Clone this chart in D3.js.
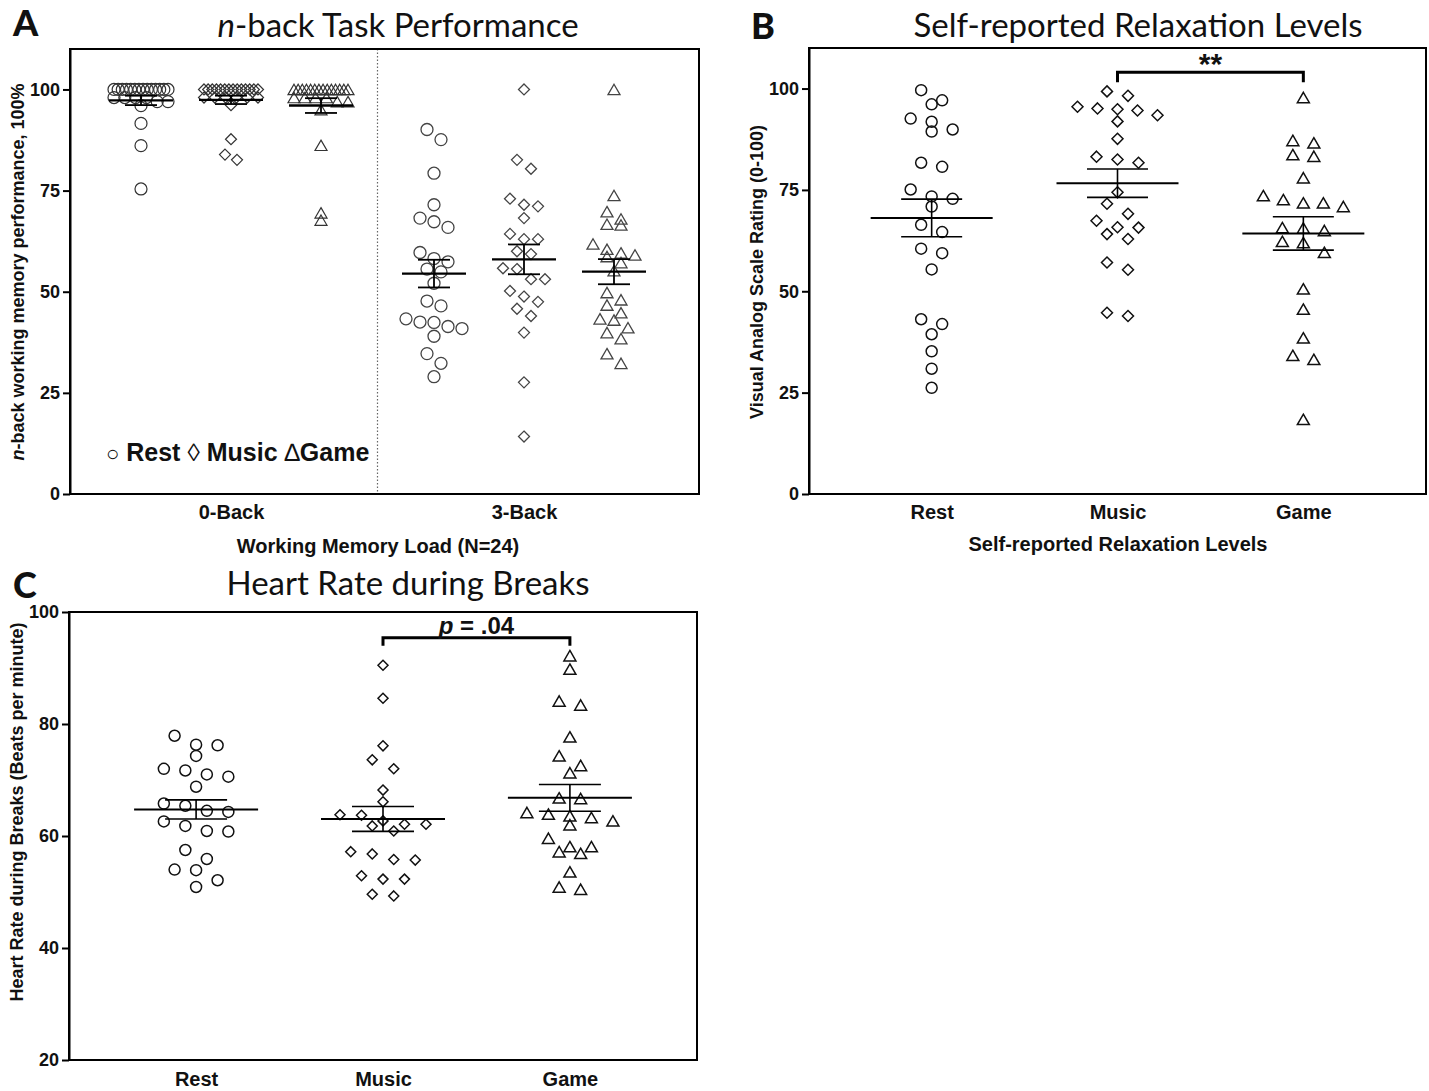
<!DOCTYPE html>
<html>
<head>
<meta charset="utf-8">
<script src="https://cdn.jsdelivr.net/npm/d3@7"></script>
<style>
  body { margin: 0; background: #fff; }
  svg text { font-family: "Liberation Sans", Arial, sans-serif; font-weight: bold; fill: #111; }
  svg text.ttl { font-family: Lato, "Open Sans", sans-serif; font-weight: normal; font-size: 33px; }
  svg text.letter { font-family: Lato, "Open Sans", sans-serif; font-weight: 900; font-size: 36px; }
</style>
</head>
<body>
<svg id="fig" width="1429" height="1091"></svg>
<script>
// datos
var conditions = ["Rest", "Music", "Game"];
var loads = ["0-Back", "3-Back"];

var ticksA = [0, 25, 50, 75, 100];
var ticksB = [0, 25, 50, 75, 100];
var ticksC = [20, 40, 60, 80, 100];

// A: n-back performance (%)
var nbackRest0 = [100,100,100,100,100,100,100,100,100,100,100,100,100,100,98,98,98,98,97,97,96,91.6,86.1,75.4];
var nbackMusic0 = [100,100,100,100,100,100,100,100,100,100,100,100,100,100,98,98,98,98,98,98,96.1,87.7,83.9,82.6];
var nbackGame0 = [100,100,100,100,100,100,100,100,100,100,100,100,100,100,98,98,98,98,97,97,95,86.2,69.5,67.7];
var nbackRest3 = [90.1,87.6,79.3,71.5,68.2,67.3,65.9,59.7,58.2,57.4,55.6,54.9,52.1,47.7,46.5,43.3,42.5,42.4,41.4,40.9,39.0,34.7,32.3,29.0];
var nbackMusic3 = [100,82.6,80.4,73.0,71.5,71.1,68.2,64.3,63.0,63.0,60.0,59.3,55.8,55.6,53.1,53.1,50.2,48.8,47.5,45.8,44.0,39.9,27.6,14.2];
var nbackGame3 = [100,73.8,69.8,68.0,66.7,66.5,61.8,60.5,59.6,59.1,58.7,57.2,55.2,49.8,48.0,46.7,44.8,43.3,43.0,41.1,39.9,38.4,34.7,32.3];

// B: relaxation VAS (0-100)
var relaxRest = [99.6,97.1,96.1,92.6,91.8,89.9,89.4,81.7,80.7,75.1,73.4,72.8,70.9,66.4,64.6,60.5,59.4,55.4,43.1,41.9,39.4,35.2,30.9,26.2];
var relaxMusic = [99.3,98.2,95.5,95.1,94.9,94.6,93.4,91.9,87.6,83.2,82.5,81.7,74.4,71.6,69.1,67.4,65.8,65.7,64.1,62.9,57.1,55.3,44.7,43.9];
var relaxGame = [97.8,87.2,86.6,83.7,83.3,78.0,73.6,72.6,71.8,71.8,70.9,65.7,65.6,65.0,62.3,62.0,59.6,50.6,45.6,38.5,34.2,33.2,18.4];

// C: heart rate (bpm)
var hrRest = [77.9,76.3,76.2,74.3,72.0,71.7,71.0,70.6,68.8,65.8,65.4,64.5,64.3,62.6,61.8,60.9,60.8,57.5,55.9,54.0,53.9,52.1,50.9];
var hrMusic = [90.5,84.6,76.1,73.6,72.0,68.2,66.1,63.8,63.7,62.7,62.1,62.1,61.8,60.9,57.2,56.8,55.8,55.7,52.9,52.3,52.3,49.6,49.3];
var hrGame = [92.2,89.8,84.1,83.4,77.7,74.3,72.6,71.3,66.8,66.7,64.2,63.9,63.6,63.3,62.7,62.0,59.6,58.1,58.1,57.2,56.9,53.6,50.9,50.5];

var svg = d3.select("#fig");

// simbolos
var shapes = {
  Rest: d3.symbolCircle,
  Music: d3.symbolDiamond2 || d3.symbolDiamond,
  Game: d3.symbolTriangle2 || d3.symbolTriangle
};
function symbolPath(cond, w) {
  var size;
  if (cond === "Rest") size = Math.PI * (w / 2) * (w / 2);
  else if (cond === "Music") size = Math.pow(w / 2 / 0.62625, 2);
  else size = Math.pow(w / 1.732 / 0.6824, 2);
  return d3.symbol(shapes[cond], size)();
}

// reparte los puntos en filas (estilo prism)
function swarm(values, y, cx, step, maxW, rowH) {
  var sorted = values.slice().sort(d3.descending);
  var rows = [], cur = null;
  sorted.forEach(function(v) {
    if (cur && y(v) - y(cur[0]) < rowH) cur.push(v);
    else { cur = [v]; rows.push(cur); }
  });
  var out = [];
  rows.forEach(function(r) {
    var n = r.length;
    var s = n > 1 ? Math.min(step, maxW / (n - 1)) : 0;
    r.forEach(function(v, i) {
      out.push({ v: v, x: cx + (i - (n - 1) / 2) * s, y: y(v) });
    });
  });
  return out;
}

function drawGroup(g, vals, cond, cx, y, o) {
  var pts = swarm(vals, y, cx, o.step, o.maxW, o.rowH);
  var w = o.size[cond];
  g.append("g").selectAll("path")
    .data(pts)
    .enter().append("path")
    .attr("d", symbolPath(cond, w))
    .attr("transform", function(d) {
      var dy = cond === "Game" ? w / 1.732 / 4 : 0;
      return "translate(" + d.x + "," + (d.y + dy) + ")";
    })
    .attr("fill", "none")
    .attr("stroke", o.color)
    .attr("stroke-width", o.sw);

  var m = d3.mean(vals),
      se = d3.deviation(vals) / Math.sqrt(vals.length);
  var eb = g.append("g").attr("stroke", "#000");
  eb.append("line")
    .attr("x1", cx - o.meanW / 2).attr("x2", cx + o.meanW / 2)
    .attr("y1", y(m)).attr("y2", y(m))
    .attr("stroke-width", o.meanSW);
  eb.append("line")
    .attr("x1", cx).attr("x2", cx)
    .attr("y1", y(m - se)).attr("y2", y(m + se))
    .attr("stroke-width", o.capSW);
  [m - se, m + se].forEach(function(v) {
    eb.append("line")
      .attr("x1", cx - o.capW / 2).attr("x2", cx + o.capW / 2)
      .attr("y1", y(v)).attr("y2", y(v))
      .attr("stroke-width", o.capSW);
  });
}

function frame(x0, y0, x1, y1) {
  svg.append("rect")
    .attr("x", x0).attr("y", y0)
    .attr("width", x1 - x0).attr("height", y1 - y0)
    .attr("fill", "none").attr("stroke", "#000").attr("stroke-width", 2);
}

function leftAxis(y, ticks, x0) {
  var ax = svg.append("g")
    .attr("transform", "translate(" + x0 + ",0)")
    .call(d3.axisLeft(y).tickValues(ticks).tickSize(7).tickPadding(3).tickSizeOuter(0));
  ax.select(".domain").attr("stroke-width", 2);
  ax.selectAll(".tick line").attr("stroke-width", 2);
  ax.selectAll("text").attr("font-size", 18).attr("font-family", "Liberation Sans").attr("font-weight", "bold").attr("fill", "#111");
}

function bottomLabels(x, y0, pad) {
  var ax = svg.append("g")
    .attr("transform", "translate(0," + y0 + ")")
    .call(d3.axisBottom(x).tickSize(0).tickPadding(pad));
  ax.select(".domain").remove();
  ax.selectAll("text").attr("font-size", 20).attr("font-family", "Liberation Sans").attr("font-weight", "bold").attr("fill", "#111");
}

function yLabel(x, yc, size) {
  return svg.append("text")
    .attr("transform", "translate(" + x + "," + yc + ") rotate(-90)")
    .attr("text-anchor", "middle")
    .attr("font-size", size);
}

// ---------- Panel A ----------
var yA = d3.scaleLinear().domain([0, 110]).range([494, 49]);
var loadX = d3.scalePoint().domain(loads).range([231, 524]);
var condX = d3.scalePoint().domain(conditions).range([-90, 90]);

svg.append("line")
  .attr("x1", (loadX("0-Back") + loadX("3-Back")) / 2).attr("x2", (loadX("0-Back") + loadX("3-Back")) / 2)
  .attr("y1", yA(110)).attr("y2", yA(0))
  .attr("stroke", "#666").attr("stroke-width", 1.2).attr("stroke-dasharray", "1.5,2");

var gA = svg.append("g");
var optA0 = { step: 12, maxW: 54, rowH: 6, size: { Rest: 12, Music: 11, Game: 12 }, color: "#333", sw: 1.2,
              meanW: 64, capW: 32, meanSW: 2.4, capSW: 1.8 };
var optA3 = { step: 14, maxW: 60, rowH: 11, size: { Rest: 12, Music: 11, Game: 12 }, color: "#444", sw: 1.3,
              meanW: 64, capW: 32, meanSW: 2.2, capSW: 1.8 };
var setA = {
  "0-Back": { Rest: nbackRest0, Music: nbackMusic0, Game: nbackGame0 },
  "3-Back": { Rest: nbackRest3, Music: nbackMusic3, Game: nbackGame3 }
};
loads.forEach(function(l) {
  conditions.forEach(function(c) {
    drawGroup(gA, setA[l][c], c, loadX(l) + condX(c), yA, l === "0-Back" ? optA0 : optA3);
  });
});

frame(70, 49, 699, 494);
leftAxis(yA, ticksA, 70);
bottomLabels(loadX, 494, 11);

var legA = svg.append("text").attr("x", 106).attr("y", 461).attr("font-size", 25);
legA.append("tspan").attr("font-weight", "normal").attr("font-size", 22).text("○");
legA.append("tspan").text(" Rest ");
legA.append("tspan").attr("font-weight", "normal").attr("font-size", 25).text("◊");
legA.append("tspan").text(" Music ");
legA.append("tspan").attr("font-weight", "normal").text("∆");
legA.append("tspan").text("Game");

svg.append("text").attr("x", 378).attr("y", 553).attr("text-anchor", "middle").attr("font-size", 20)
  .text("Working Memory Load (N=24)");

var ylA = yLabel(24, 272, 18);
ylA.append("tspan").attr("font-style", "italic").text("n");
ylA.append("tspan").text("-back working memory performance, 100%");

var tA = svg.append("text").attr("class", "ttl").attr("x", 398).attr("y", 37).attr("text-anchor", "middle");
tA.append("tspan").attr("font-style", "italic").text("n");
tA.append("tspan").text("-back Task Performance");
svg.append("text").attr("class", "letter").attr("x", 13).attr("y", 36).text("A");

// ---------- Panel B ----------
var yB = d3.scaleLinear().domain([0, 110]).range([494, 48]);
var xB = d3.scalePoint().domain(conditions).range([809, 1426]).padding(0.66);
var optB = { step: 21, maxW: 80, rowH: 11, size: { Rest: 11, Music: 11, Game: 12 }, color: "#111", sw: 1.5,
             meanW: 122, capW: 61, meanSW: 2, capSW: 1.6 };
var setB = { Rest: relaxRest, Music: relaxMusic, Game: relaxGame };
var gB = svg.append("g");
conditions.forEach(function(c) { drawGroup(gB, setB[c], c, xB(c), yB, optB); });

frame(809, 48, 1426, 494);
leftAxis(yB, ticksB, 809);
bottomLabels(xB, 494, 11);

// corchete de significancia
var brB = yB(104);
svg.append("path")
  .attr("d", "M" + xB("Music") + "," + (brB + 10) + "V" + brB + "H" + xB("Game") + "V" + (brB + 10))
  .attr("fill", "none").attr("stroke", "#000").attr("stroke-width", 3);
svg.append("text").attr("x", (xB("Music") + xB("Game")) / 2).attr("y", brB + 2)
  .attr("text-anchor", "middle").attr("font-size", 30).text("**");

svg.append("text").attr("x", 1118).attr("y", 551).attr("text-anchor", "middle").attr("font-size", 20)
  .text("Self-reported Relaxation Levels");
yLabel(763, 272, 18).text("Visual Analog Scale Rating (0-100)");
svg.append("text").attr("class", "ttl").attr("x", 1138).attr("y", 37).attr("text-anchor", "middle")
  .text("Self-reported Relaxation Levels");
svg.append("text").attr("class", "letter").attr("x", 751).attr("y", 39).text("B");

// ---------- Panel C ----------
var yC = d3.scaleLinear().domain([20, 100]).range([1060, 612]);
var xC = d3.scalePoint().domain(conditions).range([69, 697]).padding(0.68);
var optC = { step: 21.5, maxW: 90, rowH: 11, size: { Rest: 11, Music: 10, Game: 12 }, color: "#111", sw: 1.5,
             meanW: 124, capW: 62, meanSW: 2, capSW: 1.6 };
var setC = { Rest: hrRest, Music: hrMusic, Game: hrGame };
var gC = svg.append("g");
conditions.forEach(function(c) { drawGroup(gC, setC[c], c, xC(c), yC, optC); });

frame(69, 612, 697, 1060);
leftAxis(yC, ticksC, 69);
bottomLabels(xC, 1060, 12);

var brC = yC(95.4);
svg.append("path")
  .attr("d", "M" + xC("Music") + "," + (brC + 8) + "V" + brC + "H" + xC("Game") + "V" + (brC + 8))
  .attr("fill", "none").attr("stroke", "#000").attr("stroke-width", 3);
var pC = svg.append("text").attr("x", (xC("Music") + xC("Game")) / 2).attr("y", brC - 4)
  .attr("text-anchor", "middle").attr("font-size", 24);
pC.append("tspan").attr("font-style", "italic").text("p");
pC.append("tspan").text(" = .04");

yLabel(23, 812, 18).text("Heart Rate during Breaks (Beats per minute)");
svg.append("text").attr("class", "ttl").attr("x", 408).attr("y", 595).attr("text-anchor", "middle")
  .text("Heart Rate during Breaks");
svg.append("text").attr("class", "letter").attr("x", 13).attr("y", 598).text("C");
</script>
</body>
</html>
